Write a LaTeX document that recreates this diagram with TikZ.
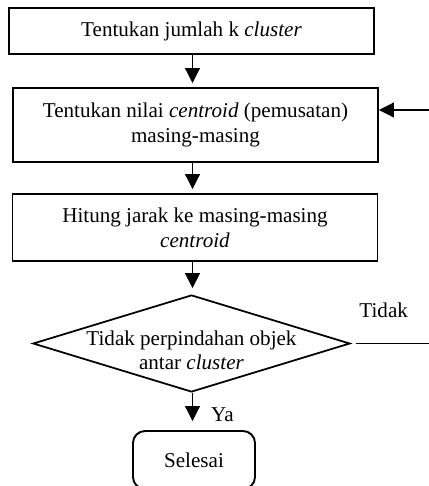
\documentclass[tikz,border=0pt]{standalone}
\usepackage{fontspec}
\setmainfont{Liberation Serif}
\usepackage{tikz}
\usetikzlibrary{shapes.geometric, arrows.meta, positioning, calc}

\tikzset{
    stepbox/.style={draw, line width=1.1pt, minimum width=7.3cm, align=center, inner sep=2pt},
    decision/.style={draw, diamond, aspect=3.27, line width=1pt, minimum width=6.34cm, minimum height=1.94cm, inner sep=0pt},
    endbox/.style={draw, rounded corners=0.24cm, line width=1.1pt, minimum width=2.44cm, minimum height=1.16cm},
    flow/.style={-{Triangle[length=0.3cm, width=0.3cm]}, line width=0.6pt},
}

\begin{document}
\begin{tikzpicture}[font=\fontsize{12}{14}\selectfont]
        \useasboundingbox (0,0) rectangle (8.58,-9.72);
        \coordinate (axis) at (3.85,0);

        % Steps
        \node[stepbox, minimum height=0.92cm] (jumlah) at (3.83,-0.62) {Tentukan jumlah k \textit{cluster}};
        \node[stepbox, minimum height=1.48cm] (centroid) at (3.91,-2.5) {Tentukan nilai \textit{centroid} (pemusatan)\\masing-masing};
        \node[stepbox, minimum height=1.34cm] (jarak) at (3.9,-4.55) {Hitung jarak ke masing-masing\\\textit{centroid}};
        \node[decision] (pindah) at (3.83,-6.87) {};
        \node[align=center, inner sep=0pt] (pindahtext) at ($(pindah.center)+(0,-0.14)$) {Tidak perpindahan objek\\antar \textit{cluster}};
        \node[endbox] (selesai) at (3.88,-9.2) {Selesai};

        % Arrows
        \draw[flow, shorten >=0.08cm] (jumlah.south -| axis) -- (centroid.north -| axis);
        \draw[flow, shorten >=0.08cm] (centroid.south -| axis) -- (jarak.north -| axis);
        \draw[flow, shorten >=0.12cm] (jarak.south -| axis) -- (pindah.north -| axis);
        \draw[flow, shorten >=0.18cm] (pindah.south -| axis) -- (selesai.north -| axis) node[pos=0.6, right=7pt] {Ya};

        % Loop back (cut at the edge)
        \coordinate (tidakend) at (8.58,-6.87);
        \coordinate (balik) at (8.58,-2.2);
        \draw[line width=0.6pt, shorten <=0.1cm] (pindah.east) -- (tidakend) node[pos=0.42, above=0.38cm] {Tidak};
        \draw[flow] (balik) -- (centroid.east |- balik);
    \end{tikzpicture}
\end{document}
